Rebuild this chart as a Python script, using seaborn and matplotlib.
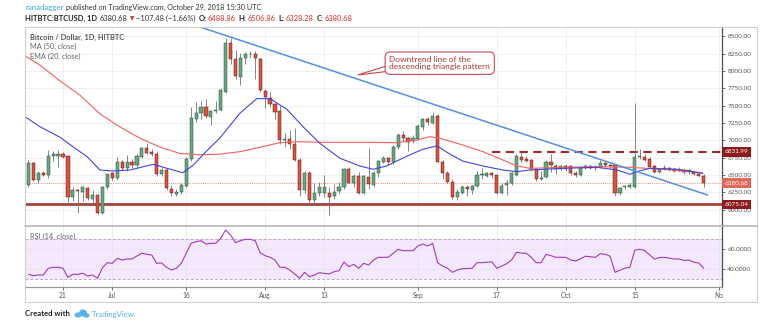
import numpy as np
import pandas as pd
import matplotlib
matplotlib.use("Agg")
import matplotlib.pyplot as plt
import matplotlib.transforms as mtransforms
from matplotlib.patches import Rectangle, Polygon, Ellipse
from matplotlib.lines import Line2D
import seaborn as sns

# ---------------- data ----------------
start_date = "2018-06-14"

opens = [6354, 6667, 6426, 6523, 6499, 6773, 6780, 6797, 6773, 6185,
         6282, 6258, 6306, 6150, 6210, 5955, 6330, 6523, 6451, 6690,
         6595, 6690, 6645, 6763, 6893, 6826, 6800, 6509, 6571, 6292,
         6230, 6249, 6344, 6726, 7302, 7389, 7475, 7340, 7427, 7437,
         7701, 8408, 8168, 7917, 8183, 8240, 8245, 8168, 7711, 7614,
         7523, 7422, 7004, 7014, 6942, 6716, 6282, 6523, 6138, 6235,
         6240, 6243, 6200, 6270, 6321, 6581, 6388, 6484, 6243, 6474,
         6354, 6523, 6690, 6740, 6690, 6907, 7076, 7028, 6985, 7014,
         7187, 7302, 7253, 7350, 6690, 6523, 6402, 6185, 6243, 6321,
         6282, 6340, 6499, 6490, 6523, 6499, 6243, 6354, 6380, 6499,
         6760, 6726, 6716, 6581, 6436, 6474, 6690, 6629, 6581, 6630,
         6629, 6532, 6499, 6600, 6630, 6600, 6619, 6676, 6650, 6643,
         6243, 6320, 6330, 6330, 6763, 6763, 6735, 6629, 6547, 6590,
         6595, 6580, 6570, 6571, 6540, 6547, 6520, 6488.86]
highs = [6720, 6690, 6560, 6560, 6860, 6850, 6860, 6830, 6790, 6320,
         6300, 6340, 6330, 6280, 6230, 6340, 6520, 6540, 6760, 6720,
         6790, 6730, 6800, 6900, 6960, 6870, 6850, 6600, 6600, 6350,
         6290, 6380, 6760, 7475, 7550, 7570, 7600, 7440, 7560, 7750,
         8471, 8480, 8300, 8260, 8270, 8290, 8290, 8200, 7740, 7700,
         7540, 7500, 7100, 7150, 7170, 6740, 6560, 6550, 6380, 6400,
         6500, 6320, 6370, 6400, 6600, 6620, 6520, 6540, 6500, 6884,
         6560, 6720, 6780, 6760, 6930, 7100, 7130, 7050, 7080, 7230,
         7320, 7340, 7410, 7380, 6720, 6560, 6440, 6300, 6350, 6360,
         6360, 6560, 6600, 6540, 6540, 6520, 6380, 6420, 6540, 6800,
         6830, 6780, 6730, 6600, 6560, 6720, 6800, 6660, 6650, 6660,
         6640, 6560, 6620, 6660, 6650, 6640, 6720, 6690, 6660, 6650,
         6330, 6360, 6380, 7542, 6870, 6800, 6760, 6650, 6600, 6650,
         6610, 6600, 6620, 6580, 6580, 6560, 6540, 6506.86]
lows = [6320, 6410, 6380, 6480, 6460, 6700, 6620, 6740, 6113, 6120,
        5946, 6120, 6140, 6100, 5940, 5930, 6300, 6420, 6420, 6570,
        6560, 6600, 6600, 6740, 6800, 6770, 6480, 6480, 6280, 6200,
        6200, 6230, 6330, 6700, 7268, 7300, 7320, 7220, 7390, 7420,
        7680, 8100, 7880, 7800, 8100, 8180, 7890, 7700, 7461, 7480,
        7300, 6950, 6900, 6880, 6700, 6200, 6240, 6080, 6100, 6200,
        6180, 5920, 6150, 6220, 6300, 6380, 6320, 6230, 6230, 6300,
        6330, 6470, 6670, 6640, 6660, 6880, 6990, 6850, 6960, 7000,
        7150, 7220, 7240, 6680, 6440, 6380, 6150, 6140, 6220, 6200,
        6220, 6330, 6440, 6470, 6460, 6220, 6230, 6210, 6360, 6490,
        6680, 6680, 6560, 6410, 6420, 6460, 6540, 6520, 6570, 6560,
        6500, 6470, 6490, 6580, 6590, 6570, 6600, 6620, 6580, 6200,
        6210, 6300, 6310, 6310, 6730, 6700, 6600, 6530, 6530, 6570,
        6560, 6540, 6550, 6520, 6520, 6500, 6480, 6328.28]
closes = [6667, 6426, 6523, 6499, 6773, 6797, 6800, 6760, 6185, 6282,
          6265, 6330, 6162, 6210, 5955, 6330, 6509, 6451, 6690, 6595,
          6690, 6650, 6773, 6893, 6820, 6797, 6509, 6571, 6306, 6240,
          6250, 6354, 6726, 7317, 7398, 7475, 7346, 7427, 7440, 7725,
          8408, 8168, 7927, 8183, 8240, 8250, 8190, 7725, 7628, 7523,
          7412, 7004, 7020, 6942, 6716, 6282, 6523, 6138, 6235, 6330,
          6320, 6185, 6260, 6330, 6581, 6388, 6484, 6243, 6484, 6364,
          6532, 6705, 6740, 6690, 6907, 7076, 7028, 6980, 7030, 7205,
          7302, 7260, 7350, 6690, 6523, 6402, 6185, 6258, 6321, 6290,
          6340, 6499, 6505, 6523, 6500, 6235, 6340, 6388, 6523, 6773,
          6710, 6700, 6581, 6436, 6460, 6690, 6643, 6581, 6630, 6590,
          6523, 6499, 6595, 6630, 6600, 6620, 6676, 6650, 6625, 6243,
          6306, 6340, 6350, 6763, 6770, 6720, 6619, 6547, 6590, 6595,
          6580, 6560, 6555, 6542, 6565, 6513, 6490, 6380.68]

# MA (50) and EMA (20) (day offset, price)
ma50_days = [-0.7, 2.3, 6.4, 10.4, 14.5, 18.6, 22.6, 26.7, 30.7, 34.8, 38.8,
             42.9, 46.9, 51.0, 55.1, 59.1, 63.2, 67.9, 74.7, 78.8, 81.4, 83.5,
             88.1, 92.2, 96.2, 99.1, 101.7, 108.4, 115.3, 122.0, 128.7, 136.8]
ma50_vals = [8216, 8086, 7855, 7653, 7380, 7190, 7030, 6900, 6810, 6790, 6800,
             6835, 6898, 6965, 6979, 6970, 6970, 6970, 6965, 7004, 7052, 7028,
             6932, 6835, 6716, 6629, 6595, 6610, 6619, 6610, 6581, 6532]
ema20_days = [-0.7, 2.3, 6.4, 9.0, 11.9, 14.5, 17.1, 20.6, 25.3, 28.1, 31.3,
              33.4, 36.2, 38.8, 42.9, 46.3, 49.0, 52.4, 55.7, 59.1, 63.2, 67.2,
              69.9, 72.7, 74.7, 77.4, 80.0, 82.9, 85.5, 88.1, 92.2, 96.2, 99.1,
              101.7, 108.4, 115.3, 119.4, 122.0, 123.4, 126.1, 131.7, 136.8]
ema20_vals = [7340, 7196, 7043, 6907, 6763, 6571, 6557, 6571, 6653, 6595, 6532,
              6640, 6850, 7030, 7390, 7600, 7600, 7447, 7196, 6956, 6740, 6629,
              6581, 6630, 6700, 6790, 6870, 6918, 6800, 6700, 6629, 6571, 6547,
              6571, 6595, 6610, 6571, 6509, 6547, 6595, 6581, 6523]

rsi_vals = [34.4, 33.0, 33.7, 33.7, 40.4, 41.4, 41.4, 40.4, 31.4, 34.4,
            34.4, 35.4, 32.7, 33.7, 30.4, 41.0, 46.0, 45.4, 50.4, 48.7,
            49.7, 49.7, 52.7, 55.4, 54.4, 53.7, 45.4, 45.7, 41.4, 38.7,
            40.4, 45.4, 55.4, 65.4, 67.0, 68.0, 64.7, 65.4, 65.4, 70.4,
            78.7, 73.7, 66.0, 68.0, 69.4, 69.4, 68.0, 56.0, 53.0, 51.4,
            48.7, 41.4, 41.4, 38.7, 34.7, 30.4, 36.4, 32.0, 33.7, 36.0,
            35.4, 34.7, 37.0, 38.0, 46.7, 42.0, 44.4, 40.4, 45.4, 43.7,
            48.7, 51.4, 51.4, 51.4, 55.4, 59.4, 58.0, 58.0, 58.0, 62.7,
            64.7, 62.7, 65.4, 46.0, 42.7, 40.4, 36.4, 38.7, 40.0, 40.2,
            40.4, 46.0, 46.0, 46.5, 47.0, 40.4, 42.7, 45.0, 48.7, 56.4,
            55.6, 55.4, 51.4, 46.0, 46.0, 54.4, 53.0, 51.4, 51.4, 51.4,
            48.7, 47.7, 50.0, 52.5, 52.0, 51.4, 55.0, 54.4, 52.5, 36.4,
            38.5, 40.5, 41.4, 58.5, 59.4, 58.2, 54.0, 49.5, 51.2, 51.4,
            50.6, 49.7, 49.7, 48.3, 48.6, 46.5, 45.7, 40.4]

trend_days = [34.8, 137.8]
trend_prices = [8634, 6210]
resistance_level = 6831.99
resistance_from = 94
support_level = 6075.04

tick_dates = ["2018-06-21", "2018-07-01", "2018-07-16", "2018-08-01", "2018-08-13",
              "2018-09-01", "2018-09-17", "2018-10-01", "2018-10-15", "2018-11-01"]
tick_labels = ["21", "Jul", "16", "Aug", "13", "Sep", "17", "Oct", "15", "No"]
price_ticks = [6000, 6250, 6500, 6750, 7000, 7250, 7500, 7750, 8000, 8250, 8500]
rsi_ticks = [40, 60]

# ---------------- style ----------------
sns.set_style("white")
plt.rcParams['font.family'] = ['Lato', 'DejaVu Sans']

W, H = 768, 333
fig = plt.figure(figsize=(W / 100, H / 100), dpi=100)
fig.patch.set_facecolor('white')
renderer = fig.canvas.get_renderer()


def fx(px):
    return px / W


def fy(py):
    return 1 - py / H


L, R = 25, 722
ax = fig.add_axes([fx(L), fy(226), fx(R) - fx(L), fy(27) - fy(226)])
rax = fig.add_axes([fx(L), fy(287), fx(R) - fx(L), fy(226) - fy(287)])

tick_days = [(pd.Timestamp(d) - pd.Timestamp(start_date)).days for d in tick_dates]
n = len(opens)
days = np.arange(n)
o = np.array(opens, float)
h = np.array(highs, float)
l = np.array(lows, float)
c = np.array(closes, float)
up = c >= o

XLIM = (-0.71, 140.7)
ax.set_xlim(*XLIM)
ax.set_ylim(5763, 8634)
ax.set_facecolor('white')

# grid
ax.set_xticks(tick_days)
ax.set_yticks(price_ticks)
ax.grid(True, color='#eeeeee', lw=0.6, zorder=0)

# candles
ax.vlines(days, l, h, color='#737375', lw=0.6, zorder=3)
bb = np.minimum(o, c)
bh = np.maximum(np.abs(c - o), 9)
ax.bar(days[up], bh[up], bottom=bb[up], width=0.64, color='#6ba583',
       edgecolor='#225437', linewidth=0.35, zorder=4)
ax.bar(days[~up], bh[~up], bottom=bb[~up], width=0.64, color='#d75442',
       edgecolor='#5b1a13', linewidth=0.35, zorder=4)

# moving averages
sns.lineplot(x=ma50_days, y=ma50_vals, ax=ax, color='#f0625f', lw=0.8,
             zorder=5, legend=False, sort=False)
sns.lineplot(x=ema20_days, y=ema20_vals, ax=ax, color='#4545d8', lw=0.8,
             zorder=5, legend=False, sort=False)

# levels and trend line
ax.axhline(support_level, color='#a8433b', lw=2.0, zorder=2.5)
ax.hlines(resistance_level, resistance_from, XLIM[1], color='#a52a2a', lw=1.5,
          linestyles=(0, (4, 2.6)), zorder=2.5)
ax.axhline(closes[-1], color='#f08a80', lw=0.7, ls=(0, (1, 1.2)), zorder=2.4)
sns.lineplot(x=trend_days, y=trend_prices, ax=ax, color='#5192de', lw=1.1,
             zorder=6, legend=False, sort=False)

ax.set_xlabel('')
ax.set_ylabel('')
ax.yaxis.tick_right()
ax.set_yticklabels([f"{p:.2f}" for p in price_ticks])
ax.tick_params(axis='y', right=True, left=False, length=2.2, width=0.6,
               color='#555555', labelsize=4.6, labelcolor='#555555', pad=1.6)
ax.tick_params(axis='x', length=0, labelbottom=False)
for s in ['top', 'left', 'bottom']:
    ax.spines[s].set_visible(False)
ax.spines['right'].set_color('#4d4d4d')
ax.spines['right'].set_linewidth(0.9)

# price label boxes
bt = mtransforms.blended_transform_factory(ax.transAxes, ax.transData)
for val, col in [(resistance_level, '#8e1b1b'), (closes[-1], '#e4675a'),
                 (support_level, '#8e1b1b')]:
    ax.text(1.0 + 2.5 / 697, val, f"{val:.2f}", transform=bt, ha='left', va='center',
            fontsize=4.6, color='white', clip_on=False, zorder=20,
            bbox=dict(boxstyle='square,pad=0.36', fc=col, ec='none'))

# annotation callout
ann_text = "Downtrend line of the\ndescending triangle pattern"
tail = Polygon([[66.8, 7942], [73.0, 8080], [73.0, 7995]], closed=True,
               fc='white', ec='#cc4a4a', lw=0.8, zorder=7)
ax.add_patch(tail)
ax.text(73.2, 8112, ann_text, ha='left', va='center', fontsize=6.0,
        color='#b23434', zorder=8, linespacing=1.0,
        bbox=dict(boxstyle='round,pad=0.5,rounding_size=0.6', fc='white',
                  ec='#cc4a4a', lw=0.8))

# legend labels
ax.text(0.0072, 0.95, "Bitcoin / Dollar, 1D, HITBTC", transform=ax.transAxes,
        fontsize=5.3, color='#555555', fontweight='bold', va='center', ha='left')
ax.text(0.0072, 0.9, "MA (50, close)", transform=ax.transAxes,
        fontsize=5.3, color='#666666', va='center', ha='left')
ax.text(0.0072, 0.85, "EMA (20, close)", transform=ax.transAxes,
        fontsize=5.3, color='#666666', va='center', ha='left')

# ---------------- RSI panel ----------------
rax.set_xlim(*XLIM)
rax.set_ylim(21.7, 82.7)
rax.axhspan(30, 70, color='#f4e8fd', zorder=0, lw=0)
rax.axhline(70, color='#bfa6cc', lw=0.7, ls=(0, (3, 2)), zorder=1)
rax.axhline(30, color='#bfa6cc', lw=0.7, ls=(0, (3, 2)), zorder=1)
rax.set_xticks(tick_days)
rax.set_xticklabels(tick_labels)
rax.set_yticks(rsi_ticks)
rax.grid(True, color='#e6e0ea', lw=0.5, zorder=0.5)
sns.lineplot(x=days, y=rsi_vals, ax=rax, color='#a33bb5', lw=0.8, zorder=3,
             legend=False)
rax.set_xlabel('')
rax.set_ylabel('')
rax.yaxis.tick_right()
rax.set_yticklabels([f"{v:.4f}" for v in rsi_ticks])
rax.tick_params(axis='y', right=True, left=False, length=2.2, width=0.6,
                color='#555555', labelsize=4.6, labelcolor='#555555', pad=1.6)
rax.tick_params(axis='x', bottom=True, length=2.2, width=0.6, color='#555555',
                labelsize=4.8, labelcolor='#555555', pad=1.6)
rax.spines['top'].set_visible(False)
rax.spines['left'].set_visible(False)
rax.spines['bottom'].set_color('#9a9a9a')
rax.spines['bottom'].set_linewidth(0.9)
rax.spines['right'].set_color('#4d4d4d')
rax.spines['right'].set_linewidth(0.9)
rax.text(0.0072, 0.83, "RSI (14, close)", transform=rax.transAxes,
         fontsize=5.3, color='#666666', va='center', ha='left')

# ---------------- frame ----------------
fig.add_artist(Rectangle((fx(25), fy(302)), fx(757) - fx(25), fy(27) - fy(302),
                         transform=fig.transFigure, fill=False, ec='#cfcfcf', lw=0.8))
fig.add_artist(Line2D([fx(25), fx(757)], [fy(226), fy(226)], transform=fig.transFigure,
                      color='#b0b0b0', lw=1.1))


# ---------------- header (laid out left to right by measured width) ----------------
def run_of_text(x0, ypx, parts):
    x = x0
    for txt, col, weight, size, gap in parts:
        t = fig.text(fx(x), fy(ypx), txt, fontsize=size, color=col, va='center',
                     fontweight=weight)
        w = t.get_window_extent(renderer=renderer).width
        x += w + gap


run_of_text(25, 7.5, [
    ("ranadagger", '#3fa9dd', 'normal', 5.7, 2.2),
    ("published on TradingView.com, October 29, 2018 15:30 UTC", '#333333', 'normal', 5.2, 0),
])
red = '#d0342c'
hs = 5.45
run_of_text(25, 18.5, [
    ("HITBTC:BTCUSD, 1D", '#222222', 'bold', hs, 2.8),
    ("6380.68", '#333333', 'normal', hs, 2.0),
    ("▼", '#c0392b', 'normal', 4.1, 2.0),
    ("−107.48 (−1.66%)", '#333333', 'normal', hs, 3.0),
    ("O:", '#222222', 'bold', hs, 1.2),
    ("6488.86", red, 'normal', hs, 3.0),
    ("H:", '#222222', 'bold', hs, 1.2),
    ("6506.86", red, 'normal', hs, 3.0),
    ("L:", '#222222', 'bold', hs, 1.2),
    ("6328.28", red, 'normal', hs, 3.0),
    ("C:", '#222222', 'bold', hs, 1.2),
    ("6380.68", red, 'normal', hs, 0),
])

# ---------------- footer ----------------
fig.text(fx(25), fy(314), "Created with", fontsize=5.6, color='#222222',
         fontweight='bold', va='center')
for (cx, cy, w, hh) in [(78, 315, 7, 5), (83, 313, 8, 7), (86.5, 315.5, 6, 4.5)]:
    fig.add_artist(Ellipse((fx(cx), fy(cy)), w / W, hh / H, transform=fig.transFigure,
                           fc='#5ab4e6', ec='none'))
fig.text(fx(92), fy(314), "TradingView", fontsize=5.6, color='#55b7e6', va='center')

fig.savefig("out.png", dpi=100, facecolor='white')
